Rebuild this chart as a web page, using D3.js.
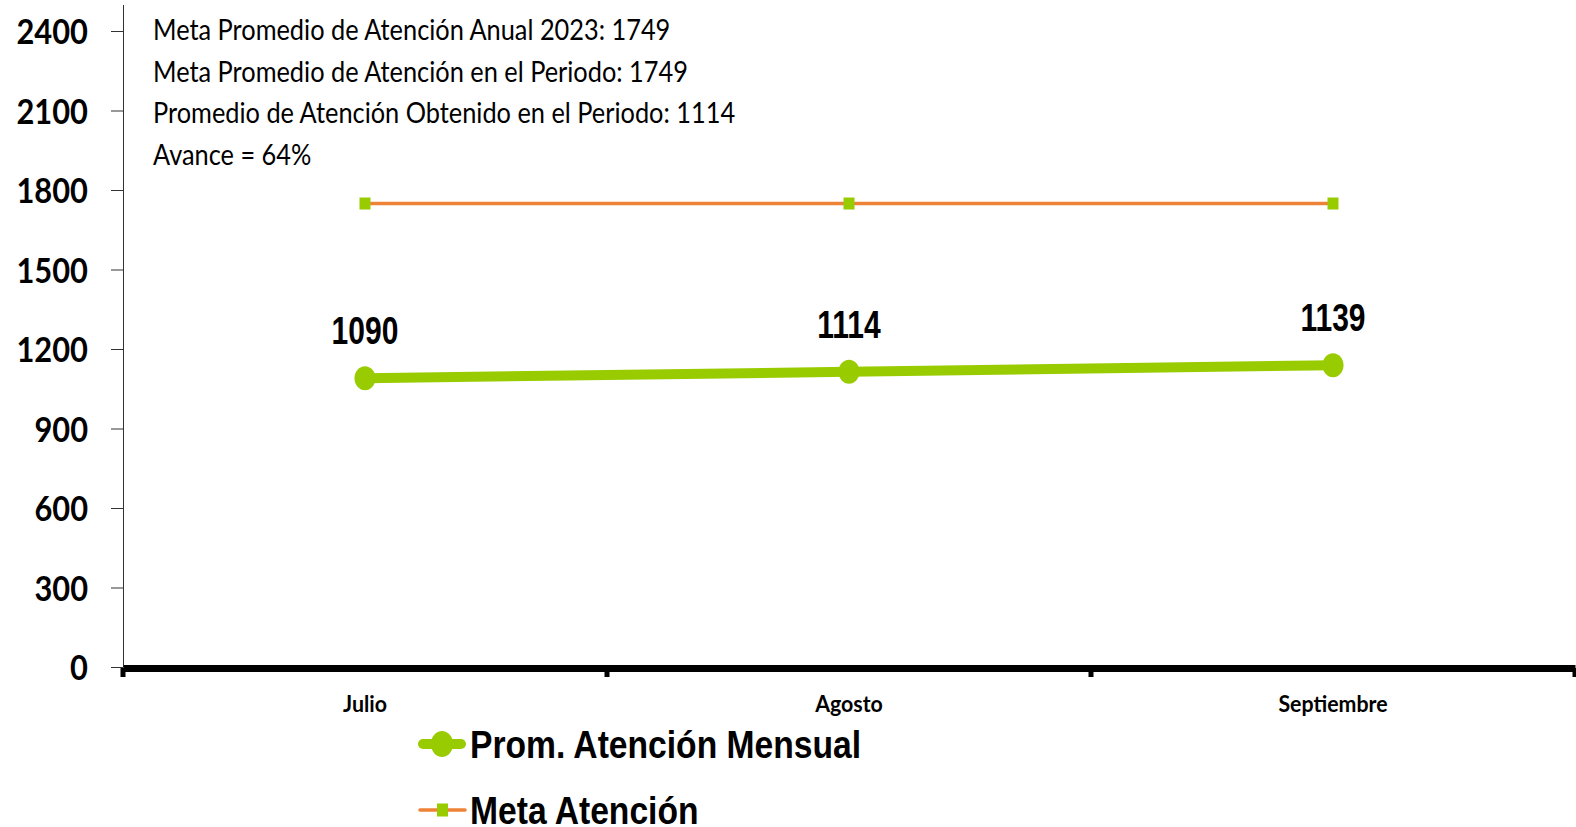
<!DOCTYPE html>
<html>
<head>
<meta charset="utf-8">
<script src="https://cdn.jsdelivr.net/npm/d3@7"></script>
<style>
  html, body { margin: 0; padding: 0; background: #ffffff; overflow: hidden; }
  svg { display: block; }
</style>
</head>
<body>
<svg id="chart" width="1576" height="827"></svg>
<script>
// ---- data ----
const categories = ["Julio", "Agosto", "Septiembre"];
const promValues = [1090, 1114, 1139];
const metaValues = [1749, 1749, 1749];
const yTickValues = [0, 300, 600, 900, 1200, 1500, 1800, 2100, 2400];
const seriesNames = ["Prom. Atención Mensual", "Meta Atención"];
const notes = [
  "Meta Promedio de Atención Anual 2023: 1749",
  "Meta Promedio de Atención en el Periodo: 1749",
  "Promedio de Atención Obtenido en el Periodo: 1114",
  "Avance = 64%"
];

// ---- styles ----
const GREEN = "#99CC00";
const ORANGE = "#EE8236";
const CAL = "Lato, 'Open Sans', sans-serif";
const ARI = "'Liberation Sans', Arial, sans-serif";

const svg = d3.select("#chart");

// condense text horizontally
function condense(sel, factor) {
  sel.each(function () {
    const w = this.getComputedTextLength();
    this.setAttribute("textLength", (w * factor).toFixed(1));
    this.setAttribute("lengthAdjust", "spacingAndGlyphs");
  });
}

const y = d3.scaleLinear().domain([0, 2500]).range([667, 4.5]);
const x = d3.scaleBand().domain(categories).range([123, 1575]);
const cx = d => x(d) + x.bandwidth() / 2;

// ---- y axis ----
const gy = svg.append("g").attr("transform", "translate(123,0)")
  .call(d3.axisLeft(y).tickValues(yTickValues).tickFormat(d3.format("d"))
    .tickSize(12).tickSizeOuter(0).tickPadding(23));
gy.select(".domain").attr("stroke", "#333").attr("stroke-width", 1);
gy.selectAll(".tick line").attr("stroke", "#333").attr("stroke-width", 1);
gy.selectAll(".tick text")
  .attr("font-family", CAL).attr("font-weight", "bold").attr("font-size", 35)
  .attr("fill", "#000").attr("dy", "0.36em");
condense(gy.selectAll(".tick text"), 0.88);

// ---- x axis ----
const gx = svg.append("g").attr("transform", "translate(0,668)")
  .call(d3.axisBottom(x).tickSize(0).tickSizeOuter(0));
gx.select(".domain").attr("stroke", "#000").attr("stroke-width", 7);
gx.selectAll(".tick text")
  .attr("font-family", CAL).attr("font-weight", "bold").attr("font-size", 22)
  .attr("fill", "#000").attr("y", 36).attr("dy", "0.35em");
condense(gx.selectAll(".tick text"), 0.97);
// band boundary tick marks
const bounds = categories.map(c => x(c)).concat([x.range()[1]]);
gx.selectAll("rect.bt").data(bounds).enter().append("rect")
  .attr("class", "bt")
  .attr("x", d => d - 2.5).attr("y", 0).attr("width", 5).attr("height", 9)
  .attr("fill", "#000");

// ---- meta line ----
const line = d3.line().x((d, i) => cx(categories[i])).y(d => y(d));
svg.append("path").datum(metaValues)
  .attr("d", line).attr("fill", "none").attr("stroke", ORANGE).attr("stroke-width", 3.5);
svg.selectAll("rect.meta").data(metaValues).enter().append("rect")
  .attr("class", "meta")
  .attr("x", (d, i) => cx(categories[i]) - 5.5).attr("y", d => y(d) - 6)
  .attr("width", 11).attr("height", 12).attr("fill", GREEN);

// ---- prom line ----
svg.append("path").datum(promValues)
  .attr("d", line).attr("fill", "none").attr("stroke", GREEN).attr("stroke-width", 10);
svg.selectAll("ellipse.prom").data(promValues).enter().append("ellipse")
  .attr("class", "prom")
  .attr("cx", (d, i) => cx(categories[i])).attr("cy", d => y(d))
  .attr("rx", 10.5).attr("ry", 12).attr("fill", GREEN);

// data labels
const dl = svg.selectAll("text.dl").data(promValues).enter().append("text")
  .attr("class", "dl")
  .attr("x", (d, i) => cx(categories[i])).attr("y", d => y(d) - 34)
  .attr("text-anchor", "middle")
  .attr("font-family", ARI).attr("font-weight", "bold").attr("font-size", 39)
  .attr("fill", "#000").text(d => d);
condense(dl, 0.77);

// ---- notes ----
const nt = svg.selectAll("text.note").data(notes).enter().append("text")
  .attr("class", "note")
  .attr("x", 153).attr("y", (d, i) => 40 + i * 41.5)
  .attr("font-family", CAL).attr("font-size", 28).attr("fill", "#000")
  .text(d => d);
condense(nt, 0.905);

// ---- legend ----
const lg = svg.append("g");
const rows = [
  { name: seriesNames[0], y: 744, color: GREEN, sw: 10, marker: "circle" },
  { name: seriesNames[1], y: 810, color: ORANGE, sw: 3.5, marker: "square" }
];
rows.forEach(r => {
  lg.append("line").attr("x1", r.sw > 5 ? 423 : 420).attr("x2", r.sw > 5 ? 461 : 465)
    .attr("y1", r.y).attr("y2", r.y)
    .attr("stroke", r.color).attr("stroke-width", r.sw).attr("stroke-linecap", "round");
  if (r.marker === "circle") {
    lg.append("ellipse").attr("cx", 442).attr("cy", r.y).attr("rx", 11).attr("ry", 13).attr("fill", GREEN);
  } else {
    lg.append("rect").attr("x", 437).attr("y", r.y - 6.5).attr("width", 11).attr("height", 13).attr("fill", GREEN);
  }
  const t = lg.append("text").attr("x", 470).attr("y", r.y + 14)
    .attr("font-family", ARI).attr("font-weight", "bold").attr("font-size", 39)
    .attr("fill", "#000").text(r.name);
  condense(t, 0.862);
});
</script>
</body>
</html>
